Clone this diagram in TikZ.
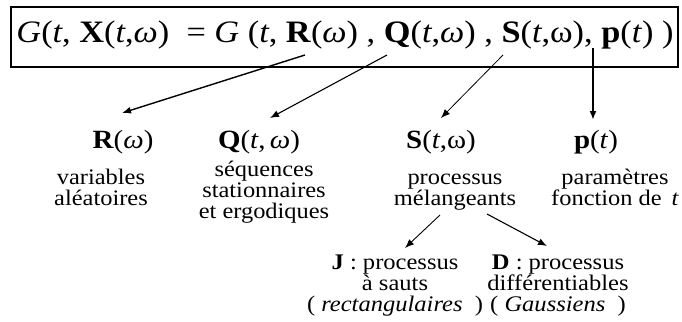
\documentclass[tikz,border=0pt]{standalone}
\usepackage{fontspec}
\setmainfont[FakeStretch=1.1]{Liberation Serif}
\usetikzlibrary{arrows.meta}
\tikzset{
  frame/.style={draw, line width=1.1pt, minimum width=667pt, minimum height=60pt, inner sep=0pt},
  eqtext/.style={font=\fontsize{31.2}{34}\selectfont, inner sep=0pt, anchor=base},
  head/.style={font=\fontsize{26.3}{28}\selectfont, inner sep=0pt, anchor=base},
  desc/.style={font=\fontsize{22.2}{20.6}\selectfont, inner sep=0pt, anchor=base, align=center},
  low/.style={font=\fontsize{22.3}{20.8}\selectfont, inner sep=0pt, anchor=base, align=center},
  arr/.style={-{Latex[length=9pt,width=7pt]}},
}
\begin{document}
\begin{tikzpicture}[x=1pt,y=-1pt]
\useasboundingbox (0,0) rectangle (682,321);
\node[frame] (box) at (344.5,37) {};
\node[eqtext] (eq) at (345,43) {\textit{G}(\textit{t}, \textbf{X}(\textit{t},\textit{ω})~~= \textit{G} (\textit{t}, \textbf{R}(\textit{ω}) , \textbf{Q}(\textit{t},\textit{ω}) , \textbf{S}(\textit{t},ω), \textbf{p}(\textit{t}) )};
% heads
\node[head] (R) at (123,148) {\textbf{R}(\textit{ω})};
\node[head] (Q) at (259,148) {\textbf{Q}(\textit{t},\,\textit{ω})};
\node[head] (S) at (441,148) {\textbf{S}(\textit{t},ω)};
\node[head] (P) at (596,148) {\textbf{p}(\textit{t})};
% descriptions (anchor = baseline of last line)
\node[desc] (Rd) at (101,205) {variables\\aléatoires};
\node[desc] (Qd) at (264,218) {séquences\\stationnaires\\et ergodiques};
\node[desc] (Sd) at (455,205) {processus\\mélangeants};
\node[desc] (Pd) at (615,205) {paramètres\\fonction de~\,\textit{t}};
\node[low] (J) at (395,311) {\textbf{J} : processus\\à sauts\\( \textit{rectangulaires}~~)};
\node[low] (D) at (558,311) {\textbf{D} : processus\\différentiables\\( \textit{Gaussiens}~~)};
% arrow ends
\coordinate (r0) at (305,55);
\coordinate (r1) at (122,113);
\coordinate (q0) at (387,55);
\coordinate (q1) at (270,118);
\coordinate (s0) at (503,55);
\coordinate (s1) at (441,118);
\coordinate (p0) at (593,48);
\coordinate (p1) at (593,120);
\coordinate (j0) at (440,215);
\coordinate (j1) at (405,248);
\coordinate (d0) at (487,214);
\coordinate (d1) at (547,246);
\draw[arr, line width=1.4pt] (r0) -- (r1);
\draw[arr, line width=1.1pt] (q0) -- (q1);
\draw[arr, line width=0.8pt] (s0) -- (s1);
\draw[arr, line width=1.8pt] (p0) -- (p1);
\draw[arr, line width=0.9pt] (j0) -- (j1);
\draw[arr, line width=1.1pt] (d0) -- (d1);
\end{tikzpicture}
\end{document}
